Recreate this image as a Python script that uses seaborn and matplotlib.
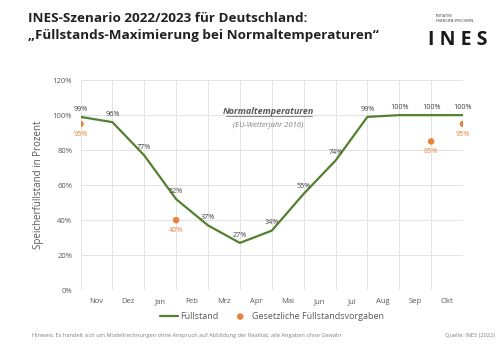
import matplotlib
matplotlib.use("Agg")
import matplotlib.pyplot as plt
import seaborn as sns
import pandas as pd

# data
months = ["Nov", "Dez", "Jan", "Feb", "Mrz", "Apr", "Mai", "Jun", "Jul", "Aug", "Sep", "Okt"]
fill_pos = [0, 1, 2, 3, 4, 5, 6, 7, 8, 9, 10, 11, 12]
fill_level = [99, 96, 77, 52, 37, 27, 34, 55, 74, 99, 100, 100, 100]
target_pos = [0, 3, 11, 12]
target_level = [95, 40, 85, 95]

green = "#538030"
orange = "#e8823a"
grey = "#595959"

df_fill = pd.DataFrame({"pos": fill_pos, "level": fill_level})
df_target = pd.DataFrame({"pos": target_pos, "level": target_level})

sns.set_style("white")
plt.rcParams["font.family"] = ["Open Sans", "DejaVu Sans"]

fig = plt.figure(figsize=(5, 3.53), dpi=100)
ax = fig.add_axes([0.161, 0.178, 0.765, 0.595])

sns.lineplot(data=df_fill, x="pos", y="level", color=green, linewidth=1.6, ax=ax, label="Füllstand")
sns.scatterplot(data=df_target, x="pos", y="level", color=orange, s=22, edgecolor="none", ax=ax,
                label="Gesetzliche Füllstandsvorgaben", zorder=5)

# value labels
for x, v in zip(fill_pos, fill_level):
    ax.text(x, v + 2.5, f"{v}%", ha="center", va="bottom", fontsize=5.2, color="#404040")
for x, v in zip(target_pos, target_level):
    ax.text(x, v - 4, f"{v}%", ha="center", va="top", fontsize=5.2, color=orange)

ax.set_xlim(0, 12)
ax.set_ylim(0, 120)
ax.set_yticks(range(0, 121, 20))
ax.set_yticklabels([f"{t}%" for t in range(0, 121, 20)], fontsize=5.5, color=grey)
ax.set_xticks(range(13), minor=False)
ax.set_xticklabels([""] * 13)
ax.set_xticks([i + 0.5 for i in range(12)], minor=True)
ax.set_xticklabels(months, minor=True, fontsize=5.5, color=grey)
ax.tick_params(axis="both", which="both", length=0, pad=6)
ax.grid(True, which="major", color="#e3e3e3", linewidth=0.7)
ax.set_axisbelow(True)
for s in ax.spines.values():
    s.set_visible(False)
ax.axhline(0, color="#d0d0d0", linewidth=0.8)

ax.set_xlabel("")
ax.set_ylabel("Speicherfüllstand in Prozent", fontsize=7, color=grey, labelpad=6)

ax.text(5.9, 102, "Normaltemperaturen", ha="center", va="center", fontsize=6.5, color=grey,
        fontstyle="italic", fontweight="bold")
ax.plot([4.55, 7.25], [99.3, 99.3], color=grey, linewidth=0.5)
ax.text(5.9, 94, "(EU-Wetterjahr 2016)", ha="center", va="center", fontsize=5.5, color="#7f7f7f",
        fontstyle="italic")

leg = ax.legend(loc="upper center", bbox_to_anchor=(0.5, -0.065), ncol=2, frameon=False,
                fontsize=6.5, handlelength=2.0, columnspacing=1.4, handletextpad=0.3)
for t in leg.get_texts():
    t.set_color(grey)

# title
fig.text(0.056, 0.965, "INES-Szenario 2022/2023 für Deutschland:", fontsize=9.7, fontweight="bold",
         color="#222222", va="top")
fig.text(0.056, 0.918, "„Füllstands-Maximierung bei Normaltemperaturen“", fontsize=9.7, fontweight="bold",
         color="#222222", va="top")

# logo
fig.text(0.872, 0.96, "INITIATIVE\nENERGIEN SPEICHERN", fontsize=2.5, color="#333333", va="top",
         linespacing=1.3)
fig.text(0.855, 0.915, "I N E S", fontsize=14, fontweight="bold", color="#1a1a1a", va="top")

# footer
fig.text(0.065, 0.05, "Hinweis: Es handelt sich um Modellrechnungen ohne Anspruch auf Abbildung der Realität; alle Angaben ohne Gewähr",
         fontsize=4.1, color="#7f7f7f", va="center")
fig.text(0.99, 0.05, "Quelle: INES (2022)", fontsize=4.1, color="#7f7f7f", va="center", ha="right")

fig.savefig("out.png", dpi=100)
